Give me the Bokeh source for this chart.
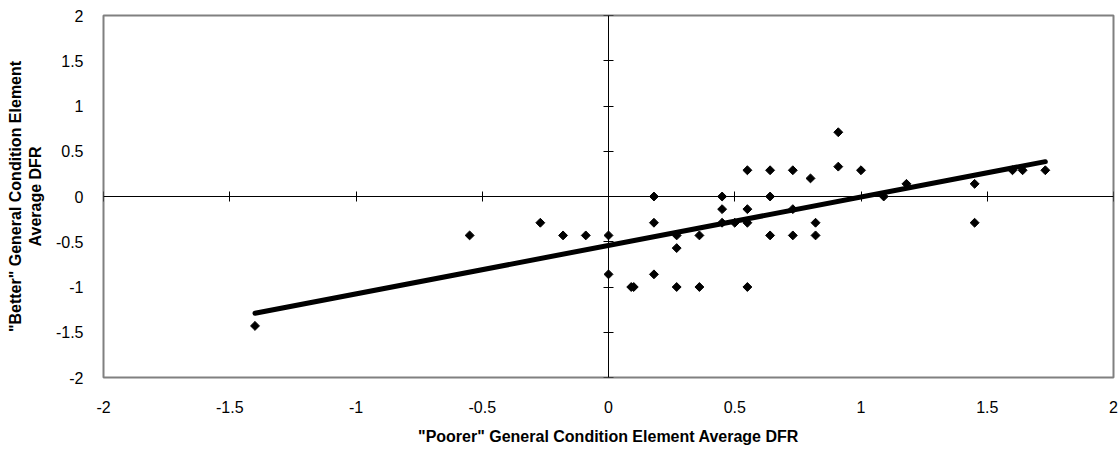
import numpy as np
from bokeh.plotting import figure
from bokeh.models import (LinearAxis, SingleIntervalTicker, CustomJSTickFormatter,
                          Range1d, ColumnDataSource)
from bokeh.embed import file_html
from bokeh.resources import INLINE

# "Poorer" general condition element average DFR (x) vs "Better" (y)
poorer_dfr = [-1.4, -0.55, -0.27, -0.18, -0.09, 0.0, 0.0, 0.09, 0.1,
              0.18, 0.18, 0.18, 0.27, 0.27, 0.27, 0.36, 0.36,
              0.45, 0.45, 0.45, 0.5, 0.55, 0.55, 0.55, 0.55,
              0.64, 0.64, 0.64, 0.73, 0.73, 0.73, 0.8, 0.82, 0.82,
              0.91, 0.91, 1.0, 1.09, 1.18, 1.45, 1.45, 1.6, 1.64, 1.73]
better_dfr = [-1.43, -0.43, -0.29, -0.43, -0.43, -0.43, -0.86, -1.0, -1.0,
              0.0, -0.29, -0.86, -0.43, -0.57, -1.0, -0.43, -1.0,
              0.0, -0.14, -0.29, -0.29, 0.29, -0.14, -0.29, -1.0,
              0.29, 0.0, -0.43, 0.29, -0.14, -0.43, 0.2, -0.29, -0.43,
              0.71, 0.33, 0.29, 0.0, 0.14, 0.14, -0.29, 0.29, 0.29, 0.29]

# Linear trend line end points
trend_x = [-1.4, 1.73]
trend_y = [-1.29, 0.385]

FONT = "Liberation Sans"

p = figure(width=1120, height=449, output_backend="svg", toolbar_location=None,
           x_range=Range1d(-2, 2), y_range=Range1d(-2, 2),
           min_border_left=103, min_border_right=7, min_border_top=15,
           min_border_bottom=72, x_axis_location=None, y_axis_location=None)

p.background_fill_color = "white"
p.border_fill_color = "white"
p.outline_line_color = "#808080"
p.outline_line_width = 2
p.xgrid.visible = False
p.ygrid.visible = False

fmt = CustomJSTickFormatter(code="return String(Math.round(tick*10)/10)")

def label_axis(**kw):
    ax = LinearAxis(ticker=SingleIntervalTicker(interval=0.5, num_minor_ticks=0),
                    formatter=fmt, **kw)
    ax.axis_line_color = None
    ax.major_tick_line_color = None
    ax.minor_tick_line_color = None
    ax.major_label_text_font = FONT
    ax.major_label_text_font_size = "16px"
    ax.major_label_text_color = "black"
    ax.axis_label_text_font = FONT
    ax.axis_label_text_font_size = "16px"
    ax.axis_label_text_font_style = "bold"
    ax.axis_label_text_color = "black"
    return ax

xax = label_axis(axis_label='"Poorer" General Condition Element Average DFR')
xax.major_label_standoff = 17
xax.axis_label_standoff = 12
p.add_layout(xax, "below")

yax = label_axis(axis_label='"Better" General Condition Element\nAverage DFR')
yax.major_label_standoff = 14
yax.axis_label_standoff = 9
p.add_layout(yax, "left")

def cross_axis(**kw):
    ax = LinearAxis(ticker=SingleIntervalTicker(interval=0.5, num_minor_ticks=0),
                    fixed_location=0, **kw)
    ax.axis_line_color = "black"
    ax.axis_line_width = 1
    ax.major_tick_line_color = "black"
    ax.major_tick_in = 5
    ax.major_tick_out = 5
    ax.minor_tick_line_color = None
    ax.major_label_text_color = None
    ax.major_label_standoff = 0
    return ax

p.add_layout(cross_axis(), "above")
p.add_layout(cross_axis(), "right")

src = ColumnDataSource(dict(x=poorer_dfr, y=better_dfr))
p.scatter("x", "y", source=src, marker="square", angle=np.pi / 4, size=6.3,
          fill_color="black", line_color="black")
p.line(trend_x, trend_y, line_color="black", line_width=5, line_cap="round")

open("out.html", "w").write(file_html(p, INLINE))
